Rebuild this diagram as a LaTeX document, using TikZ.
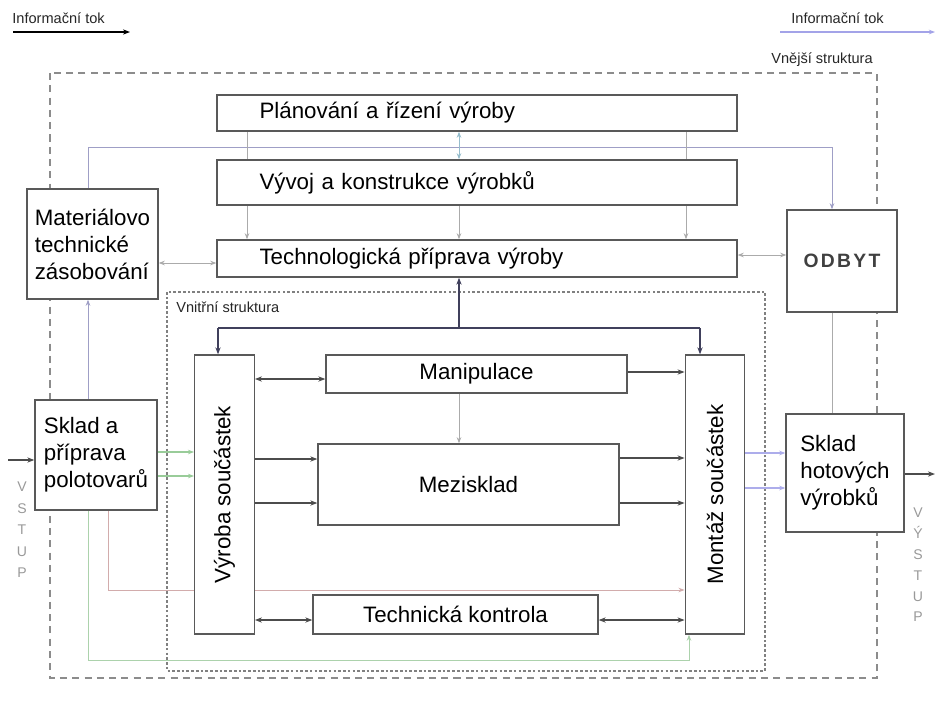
\documentclass[tikz,border=0pt]{standalone}
\usepackage{fontspec}
\setmainfont{Liberation Sans}
\newfontfamily\odbytfont[LetterSpace=12]{Liberation Sans}
\usepackage{tikz}
\usepackage{xcolor}
\usetikzlibrary{positioning, arrows.meta, calc, backgrounds}

\begin{document}
\begin{tikzpicture}[
    x=0.02cm, y=-0.02cm,
    font=\fontsize{12.7}{15.4}\selectfont,
    wide_box/.style={rectangle, draw=black!65, fill=white, line width=0.8pt, text width=8.7cm, inner xsep=0.85cm, inner ysep=0pt, align=left},
    side_box/.style={rectangle, draw=black!65, fill=white, line width=0.8pt, inner sep=0pt, align=left},
    vert_box/.style={rectangle, draw=black!65, fill=white, line width=0.8pt, minimum width=1.19cm, minimum height=5.58cm},
    mid_box/.style={rectangle, draw=black!65, fill=white, line width=0.8pt, inner sep=0pt},
    small_text/.style={font=\fontsize{8.3}{10}\selectfont, color=black!85, inner sep=0pt},
    io_text/.style={color=black!40, align=center, inner sep=0pt},
    frame_outer/.style={draw=black!45, line width=0.6pt, dash pattern=on 4pt off 3pt},
    frame_inner/.style={draw=black!50, line width=0.6pt, dash pattern=on 1.5pt off 1.2pt},
    flow_dark/.style={->, >={Stealth[length=4pt, width=3pt]}, line width=1.2pt, black!70},
    flow_light/.style={->, >={Stealth[length=3.5pt, width=2.6pt]}, line width=0.5pt, black!33},
    bus_line/.style={->, >={Stealth[length=4pt, width=3pt]}, line width=1pt, blue!15!black!75}
]
\useasboundingbox (0,0) rectangle (937,721);

% Top: planning levels
\node[wide_box, minimum height=0.72cm] (planovani) at (477,113) {Plánování a řízení výroby};
\node[wide_box, minimum height=0.9cm] (vyvoj) at (477,182.5) {Vývoj a konstrukce výrobků};
\node[wide_box, minimum height=0.74cm] (tech_prip) at (477,258.5) {Technologická příprava výroby};

% Left and right side boxes
\node[side_box, minimum width=2.62cm, minimum height=2.2cm] (mat_zas) at (92.5,244) {Materiálovo\\technické\\zásobování};
\node[side_box, minimum width=2.2cm, minimum height=2.04cm, text=black!75] (odbyt) at (842,261) {\odbytfont\bfseries\fontsize{11}{13}\selectfont ODBYT};
\node[side_box, minimum width=2.44cm, minimum height=2.2cm] (sklad_pol) at (96,455) {Sklad a\\příprava\\polotovarů};
\node[side_box, minimum width=2.36cm, minimum height=2.36cm] (sklad_hot) at (845,473) {Sklad\\hotových\\výrobků};

% Inner structure
\node[vert_box] (vyroba) at (224.5,494.5) {};
\node[rotate=90, inner sep=0pt] (vyroba_txt) at (vyroba.center) {Výroba součástek};
\node[vert_box] (montaz) at (715,494.5) {};
\node[rotate=90, inner sep=0pt] (montaz_txt) at (montaz.center) {Montáž součástek};
\node[mid_box, minimum width=6.02cm, minimum height=0.76cm] (manipulace) at (476.5,374) {Manipulace};
\node[mid_box, minimum width=6.02cm, minimum height=1.62cm] (mezisklad) at (468.5,484.5) {Mezisklad};
\node[mid_box, minimum width=5.7cm, minimum height=0.78cm] (kontrola) at (455.5,614.5) {Technická kontrola};

% Labels
\node[small_text, anchor=west] (legend_l) at (12,18) {Informační tok};
\node[small_text, anchor=west] (legend_r) at (791,18) {Informační tok};
\node[small_text, anchor=west] (vnejsi_lbl) at (771,60) {Vnější struktura};
\node[small_text, anchor=west] (vnitrni_lbl) at (176,307) {Vnitřní struktura};
\node[io_text, font=\fontsize{8}{12.2}\selectfont] (vstup) at (22,530) {V\\S\\T\\U\\P};
\node[io_text, font=\fontsize{8}{11.85}\selectfont] (vystup) at (918,565) {V\\Ý\\S\\T\\U\\P};

\begin{scope}[on background layer]
% Frames
\draw[frame_outer] (50,73) rectangle (877,678);
\draw[frame_inner] (167,292) rectangle (765,671);

% Legend arrows
\coordinate (leg_l_a) at (13,32);
\coordinate (leg_l_b) at (130,32);
\coordinate (leg_r_a) at (780,32);
\coordinate (leg_r_b) at (935,32);
\draw[flow_dark, black, line width=1pt] (leg_l_a) -- (leg_l_b);
\draw[flow_light, blue!60!gray!45, line width=0.7pt] (leg_r_a) -- (leg_r_b);

% Input and output
\coordinate (vstup_in) at (8,460);
\coordinate (vystup_out) at (935,474);
\draw[flow_dark, line width=0.8pt] (vstup_in) -- (sklad_pol.west |- vstup_in);
\draw[flow_dark, line width=0.8pt] (sklad_hot.east |- vystup_out) -- (vystup_out);

% Upper information flows
\draw[flow_light, blue!25!gray!60] (mat_zas.north -| 88,0) -- (88,147) -- (832,147) -- (odbyt.north -| 832,0);
\draw[flow_light] (planovani.south -| 247,0) -- (tech_prip.north -| 247,0);
\draw[flow_light] (planovani.south -| 686,0) -- (tech_prip.north -| 686,0);
\draw[flow_light, <->, cyan!40!gray!70] (planovani.south -| 459,0) -- (vyvoj.north -| 459,0);
\draw[flow_light] (vyvoj.south -| 459,0) -- (tech_prip.north -| 459,0);
\draw[flow_light, <->] (mat_zas.east |- 0,263) -- (tech_prip.west |- 0,263);
\draw[flow_light, <->] (tech_prip.east |- 0,255) -- (odbyt.west |- 0,255);
\draw[flow_light, blue!25!gray!60] (sklad_pol.north -| 88,0) -- (mat_zas.south -| 88,0);
\draw[flow_light, -] (odbyt.south -| 832,0) -- (sklad_hot.north -| 832,0);

% Bus from Technologicka priprava
\coordinate (bus_l) at (218,328);
\coordinate (bus_r) at (700,328);
\draw[bus_line, -] (bus_l) -- (bus_r);
\draw[bus_line] (bus_l) -- (vyroba.north -| bus_l);
\draw[bus_line] (bus_r) -- (montaz.north -| bus_r);
\draw[bus_line] (bus_l -| 459,0) -- (tech_prip.south -| 459,0);

% Material flows
\draw[flow_light, green!50!black!40, line width=0.8pt] (sklad_pol.east |- 0,452) -- (vyroba.west |- 0,452);
\draw[flow_light, green!50!black!40, line width=0.8pt] (sklad_pol.east |- 0,476) -- (vyroba.west |- 0,476);
\draw[flow_light, blue!60!gray!40, line width=0.8pt] (montaz.east |- 0,453) -- (sklad_hot.west |- 0,453);
\draw[flow_light, blue!60!gray!40, line width=0.8pt] (montaz.east |- 0,488) -- (sklad_hot.west |- 0,488);
\draw[flow_light, green!30!gray!50] (sklad_pol.south -| 88,0) -- (88,660) -- (689,660) -- (montaz.south -| 689,0);
\draw[flow_light, red!30!gray!50] (sklad_pol.south -| 108,0) |- (montaz.west |- 0,590);

% Inner links
\draw[flow_dark, <->] (vyroba.east |- 0,379) -- (manipulace.west |- 0,379);
\draw[flow_dark] (manipulace.east |- 0,372) -- (montaz.west |- 0,372);
\draw[flow_dark] (vyroba.east |- 0,459) -- (mezisklad.west |- 0,459);
\draw[flow_dark] (vyroba.east |- 0,503) -- (mezisklad.west |- 0,503);
\draw[flow_dark] (mezisklad.east |- 0,458) -- (montaz.west |- 0,458);
\draw[flow_dark] (mezisklad.east |- 0,503) -- (montaz.west |- 0,503);
\draw[flow_dark, <->] (vyroba.east |- 0,620) -- (kontrola.west |- 0,620);
\draw[flow_dark, <->] (kontrola.east |- 0,620) -- (montaz.west |- 0,620);
\draw[flow_light] (manipulace.south -| 459,0) -- (mezisklad.north -| 459,0);
\end{scope}

\end{tikzpicture}
\end{document}
